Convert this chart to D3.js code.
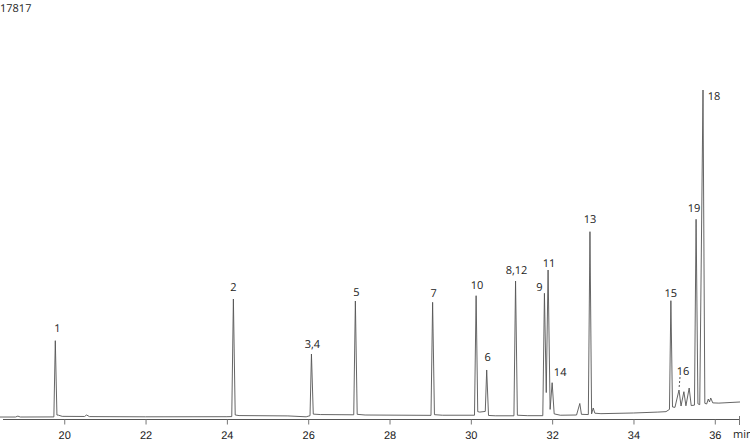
<!DOCTYPE html>
<html>
<head>
<meta charset="utf-8">
<script src="https://cdn.jsdelivr.net/npm/d3@7"></script>
<style>
  body { margin: 0; background: #fff; }
  svg { display: block; font-family: "Open Sans", "Segoe UI", sans-serif; }
  text { text-rendering: geometricPrecision; }
</style>
</head>
<body>
<div id="chart"></div>
<script>
// Tiempo de retención (min) e intensidad del cromatograma
const yMax = 17817;
const xTicks = [20, 22, 24, 26, 28, 30, 32, 34, 36];

const trace = [
  [18.42, 110], [18.80, 110], [18.86, 150], [18.92, 110], [19.70, 115], [19.745, 115],
  [19.78, 3510], [19.82, 200], [19.86, 190], [19.95, 140], [20.50, 135], [20.55, 200],
  [20.62, 130], [22.00, 120], [24.00, 125], [24.12, 130], [24.16, 5367], [24.205, 200],
  [24.30, 175], [25.50, 160], [25.95, 120], [26.045, 170], [26.08, 2917], [26.125, 240],
  [26.30, 220], [27.12, 210], [27.16, 5278], [27.205, 230], [27.40, 200], [29.02, 185],
  [29.06, 5220], [29.105, 215], [29.30, 190], [30.09, 190], [30.13, 5514], [30.17, 350],
  [30.22, 330], [30.355, 360], [30.39, 2205], [30.435, 180], [30.60, 165], [31.06, 165],
  [31.10, 6169], [31.145, 190], [31.40, 170], [31.77, 170], [31.81, 5621], [31.855, 1200],
  [31.90, 6659], [31.95, 450], [32.00, 1639], [32.05, 250], [32.20, 190], [32.60, 200],
  [32.68, 713], [32.72, 230], [32.89, 220], [32.93, 8365], [32.97, 250], [33.01, 512],
  [33.05, 280], [33.20, 260], [34.00, 290], [34.60, 330], [34.80, 350], [34.885, 450],
  [34.92, 5291], [34.96, 560], [35.02, 540], [35.12, 1314], [35.17, 600], [35.24, 1238],
  [35.29, 610], [35.37, 1403], [35.42, 620], [35.50, 640], [35.54, 8917], [35.585, 700],
  [35.63, 660], [35.71, 14676], [35.755, 720], [35.80, 690], [35.84, 913], [35.87, 780],
  [35.90, 958], [35.95, 740], [36.10, 730], [36.62, 780]
];

// Etiquetas de picos: [texto, tiempo, intensidad del ápice]
const peakLabels = [
  ["1", 19.78, 3510], ["2", 24.16, 5367], ["3,4", 26.08, 2917], ["5", 27.16, 5278],
  ["7", 29.06, 5220], ["10", 30.13, 5514], ["6", 30.39, 2205], ["8,12", 31.10, 6169],
  ["9", 31.81, 5621], ["11", 31.90, 6659], ["14", 32.00, 1639], ["13", 32.93, 8365],
  ["15", 34.92, 5291], ["16", 35.12, 1314], ["19", 35.54, 8917], ["18", 35.71, 14676]
];

const width = 750, height = 439;

const svg = d3.select("#chart").append("svg")
  .attr("width", width)
  .attr("height", height);

const x = d3.scaleLinear().domain([18.42, 36.62]).range([0, 740]);
const y = d3.scaleLinear().domain([0, yMax]).range([419.5, 19.5]);

// Eje X
const axis = svg.append("g")
  .attr("transform", "translate(0,419.5)")
  .call(d3.axisBottom(x).tickValues(xTicks).tickSize(5).tickSizeOuter(0).tickFormat(d3.format("d")));
axis.select(".domain").attr("stroke", "#555").attr("d", "M3,0H740");
axis.selectAll(".tick line").attr("stroke", "#777");
axis.selectAll(".tick text")
  .attr("fill", "#222")
  .attr("font-size", 11)
  .attr("y", 12)
  .attr("dy", "0.71em");

svg.append("line")
  .attr("x1", x(36.62) - 0.5).attr("x2", x(36.62) - 0.5)
  .attr("y1", 416).attr("y2", 425)
  .attr("stroke", "#777");

svg.append("text")
  .attr("x", 733).attr("y", 438)
  .attr("font-size", 11).attr("fill", "#222")
  .text("min");

svg.append("text")
  .attr("x", 0).attr("y", 12)
  .attr("font-size", 11).attr("fill", "#222")
  .text(yMax);

// Traza del cromatograma
const line = d3.line()
  .x(d => x(d[0]))
  .y(d => y(d[1]));

svg.append("path")
  .datum(trace)
  .attr("d", line)
  .attr("fill", "none")
  .attr("stroke", "#555")
  .attr("stroke-width", 0.9);

// Desplazamiento de cada etiqueta respecto al ápice
const offsets = {
  "1": [2, -9], "2": [0, -8], "3,4": [1, -6], "5": [1, -5], "7": [1, -5],
  "10": [1, -7], "6": [1, -9], "8,12": [1, -7], "9": [-5, -2], "11": [1, -3],
  "14": [8, -7], "13": [0, -9], "15": [0, -4], "16": [4, -15], "19": [-2, -7],
  "18": [11, 10]
};

svg.selectAll(".peak-label")
  .data(peakLabels)
  .enter()
  .append("text")
  .attr("class", "peak-label")
  .attr("x", d => x(d[1]) + offsets[d[0]][0])
  .attr("y", d => y(d[2]) + offsets[d[0]][1])
  .attr("text-anchor", "middle")
  .attr("font-size", 11)
  .attr("fill", "#222")
  .text(d => d[0]);

// Línea guía discontinua del pico 16
const p16 = peakLabels.find(d => d[0] === "16");
svg.append("line")
  .attr("x1", x(p16[1]) + 1).attr("x2", x(p16[1]))
  .attr("y1", y(p16[2]) - 13).attr("y2", y(p16[2]) - 1)
  .attr("stroke", "#555")
  .attr("stroke-dasharray", "2,2");
</script>
</body>
</html>
